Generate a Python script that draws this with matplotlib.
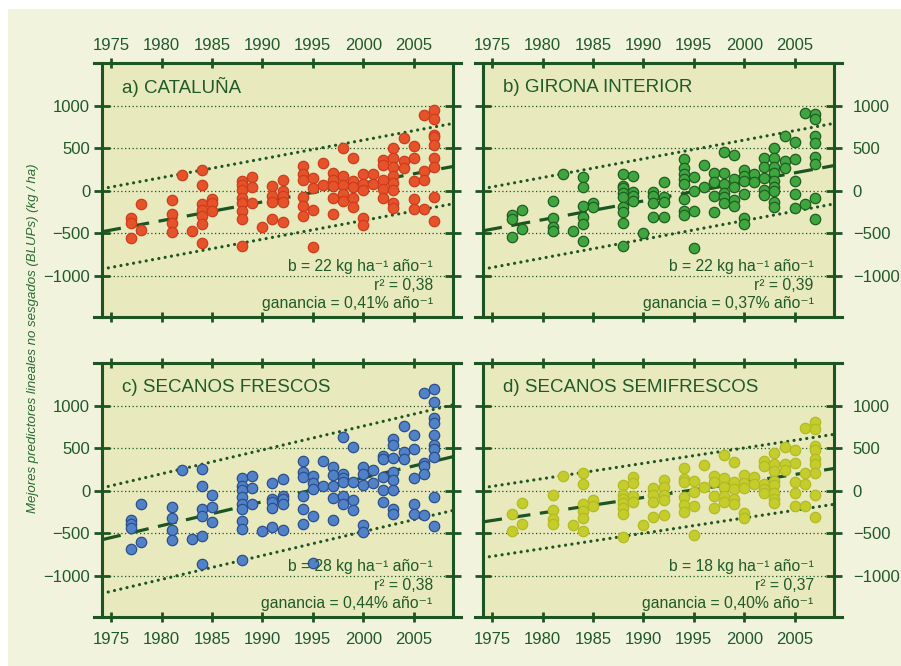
import matplotlib
matplotlib.use("Agg")
import matplotlib.pyplot as plt
import numpy as np
from matplotlib.lines import Line2D
from matplotlib.patches import Rectangle

plt.rcParams['font.family'] = ['Liberation Sans', 'DejaVu Sans']

# Release years of the tested varieties
years = [1977, 1978, 1981, 1982, 1983, 1984, 1985, 1988, 1989, 1990, 1991, 1992,
         1994, 1995, 1996, 1997, 1998, 1999, 2000, 2001, 2002, 2003, 2004, 2005,
         2006, 2007]

# BLUP values (kg/ha) per year, one list per region
cataluna = [
    [-315, -374, -559], [-157, -461], [-106, -276, -382, -480], [189], [-472],
    [240, 71, -157, -224, -291, -394, -610], [-98, -146, -236],
    [110, 71, 12, -87, -146, -236, -331, -650], [161, 43, -138], [-429],
    [59, -59, -126, -335], [130, 0, -59, -126, -362],
    [287, 201, 130, -67, -173, -291], [150, 31, -224, -657], [327, 63],
    [209, 130, 59, -79, -276], [504, 169, 71, -39, -118], [386, 118, 51, -87, -185],
    [197, 83, 12, -323, -402], [197, 79], [366, 307, 130, 20, -79],
    [504, 386, 280, 169, 91, 12, -138, -205], [622, 354, 268],
    [524, 386, 110, -98, -217], [886, 228, 122, -213],
    [949, 846, 650, 634, 543, 386, 276, -75, -350],
]
girona = [
    [-283, -335, -547], [-228, -453], [-114, -323, -421, -476], [201], [-476],
    [165, 51, -173, -303, -390, -587], [-146, -185],
    [193, 59, 31, -28, -75, -185, -244, -382, -650], [169, -8, -55, -114], [-496],
    [-8, -55, -138, -311], [102, -67, -130, -311],
    [374, 268, 201, 138, 83, -94, -236, -283], [161, -4, -232, -665], [307, 51],
    [209, 98, -59, -244], [453, 209, 79, -28, -75, -138], [421, 138, 51, -106, -173],
    [248, 169, 110, -35, -323, -390], [201, 102], [386, 280, 146, 12, -47],
    [504, 386, 280, 209, 118, 51, 0, -134, -185], [642, 354, 268],
    [579, 378, 110, -35, -205], [909, -157],
    [898, 846, 642, 563, 394, 315, -87, -335],
]
frescos = [
    [-345, -384, -431, -686], [-157, -600], [-188, -318, -463, -580], [243], [-569],
    [259, 55, -208, -294, -529, -855], [-43, -188, -361],
    [153, 55, 8, -71, -149, -208, -353, -451, -808], [176, 39, -149], [-475],
    [94, -90, -129, -200, -424], [141, -59, -90, -149, -455],
    [349, 224, 157, -59, -216, -392], [176, 94, 27, -298, -843], [353, 55],
    [275, 184, 55, -78, -337], [635, 196, 145, 106, -59, -157], [510, 106, -102, -220],
    [282, 196, 63, -396, -478], [243, 94], [412, 369, 165, 8, -129],
    [608, 537, 380, 224, 125, 8, -212, -267], [765, 459, 373],
    [655, 490, 153, -149, -267], [1145, 329, 290, 196, -278],
    [1196, 1047, 859, 792, 655, 537, 486, 400, -71, -416],
]
semifrescos = [
    [-267, -475], [-141, -392], [-51, -227, -325, -392], [176], [-404],
    [212, 86, -149, -239, -314, -475], [-110, -173],
    [63, -43, -90, -141, -200, -275, -541], [165, 94, -59, -125], [-400],
    [35, -43, -129, -306], [133, 43, -51, -110, -278],
    [271, 137, 106, -71, -169, -247], [118, -12, -180, -522], [302, 47],
    [176, 106, -59, -200], [416, 153, 47, -59, -125], [333, 102, 27, -90, -149],
    [184, 94, 39, -259, -318], [165, 78], [349, 290, 86, 27, -31],
    [447, 314, 235, 118, 67, -31, -98, -137], [518, 310, 243],
    [478, 325, 106, -31, -180], [733, 204, 75, -176],
    [812, 722, 529, 475, 369, 314, 204, -51, -306],
]

titles = ["a) CATALUÑA", "b) GIRONA INTERIOR", "c) SECANOS FRESCOS",
          "d) SECANOS SEMIFRESCOS"]
slopes = [22, 22, 28, 18]                 # b, kg ha-1 año-1
trend_1990 = [-130, -119, -128, -78]      # fitted value at 1990
band_upper_1990 = [375, 376, 480, 323]
band_lower_1990 = [-568, -569, -759, -498]
r2_labels = ["0,38", "0,39", "0,38", "0,37"]
gain_labels = ["0,41", "0,37", "0,44", "0,40"]

x_ticks = [1975, 1980, 1985, 1990, 1995, 2000, 2005]
y_ticks = [-1000, -500, 0, 500, 1000]

fill_colors = ["#e5532b", "#3ea53f", "#5182c8", "#c4cd2b"]
edge_colors = ["#cf3b1c", "#1f5e22", "#2c4f8c", "#b3bb24"]

DARK = "#1d5522"
TEXT = "#1f5a28"
FIG_BG = "#f1f3dd"
AX_BG = "#e8e9bd"

W, H = 901, 666
fig = plt.figure(figsize=(W / 100, H / 100), dpi=100)
fig.patch.set_facecolor("white")
fig.add_artist(Rectangle((8 / W, 0), 1, (H - 9) / H, transform=fig.transFigure,
                         facecolor=FIG_BG, edgecolor="none", zorder=-10))

boxes = [(102, 63), (483, 63), (102, 363), (483, 363)]
aw, ah = 351, 254
xlim = (1974.1, 2008.9)
ylim = (-1480, 1500)
datasets = [cataluna, girona, frescos, semifrescos]

for i, (data, (px, py)) in enumerate(zip(datasets, boxes)):
    ax = fig.add_axes([px / W, (H - py - ah) / H, aw / W, ah / H])
    ax.set_facecolor(AX_BG)
    ax.set_xlim(*xlim)
    ax.set_ylim(*ylim)

    for yv in y_ticks:
        ax.axhline(yv, color=DARK, lw=0.9, ls=(0, (1, 2)), zorder=1)

    xs = np.array(xlim)
    b = slopes[i]
    ax.plot(xs, trend_1990[i] + b * (xs - 1990), color=DARK, lw=2.3,
            dashes=(6, 3), zorder=2)
    for c in (band_upper_1990[i], band_lower_1990[i]):
        ax.plot(xs, c + b * (xs - 1990), color=DARK, lw=2.3,
                dashes=(0.01, 2.0), dash_capstyle="round", zorder=2)

    px_list, py_list = [], []
    for yr, vals in zip(years, data):
        px_list += [yr] * len(vals)
        py_list += vals
    ax.scatter(px_list, py_list, s=56, color=fill_colors[i],
               edgecolor=edge_colors[i], linewidth=0.9, zorder=3)

    # frame: vertical spines, horizontal rules that overhang the box
    for side in ("top", "bottom"):
        ax.spines[side].set_visible(False)
    for side in ("left", "right"):
        ax.spines[side].set_color(DARK)
        ax.spines[side].set_linewidth(2.2)
    for yy in (0, 1):
        ax.add_line(Line2D([-0.023, 1.023], [yy, yy], transform=ax.transAxes,
                           color=DARK, lw=2.2, clip_on=False, zorder=5))

    top_row = i < 2
    left_col = i % 2 == 0
    ax.set_xticks(x_ticks)
    ax.set_yticks(y_ticks)
    ax.tick_params(axis="x", direction="inout", length=7, width=2.0,
                   color=DARK, labelcolor=TEXT, labelsize=12,
                   top=True, bottom=True, labeltop=top_row,
                   labelbottom=not top_row, pad=4 if top_row else 7)
    ax.tick_params(axis="y", direction="inout", length=11, width=2.0,
                   color=DARK, labelcolor=TEXT, labelsize=12,
                   left=True, right=True, labelleft=left_col,
                   labelright=not left_col, pad=3 if left_col else 8)

    ax.text(0.056, 0.904, titles[i], transform=ax.transAxes, fontsize=13.5,
            color=TEXT, ha="left", va="center")
    stats = ("b = %d kg ha\u207b\u00b9 año\u207b\u00b9\n"
             "r\u00b2 = %s\n"
             "ganancia = %s%% año\u207b\u00b9") % (b, r2_labels[i], gain_labels[i])
    ax.text(0.942, 0.125, stats, transform=ax.transAxes, fontsize=11.3,
            color=TEXT, ha="right", va="center", multialignment="right",
            linespacing=1.28)

fig.text(33 / W, (H - 338) / H,
         "Mejores predictores lineales no sesgados (BLUPs) (kg / ha)",
         rotation=90, ha="center", va="center", fontsize=9.5, style="italic",
         color="#2b6a2f")

fig.savefig("out.png", dpi=100)
